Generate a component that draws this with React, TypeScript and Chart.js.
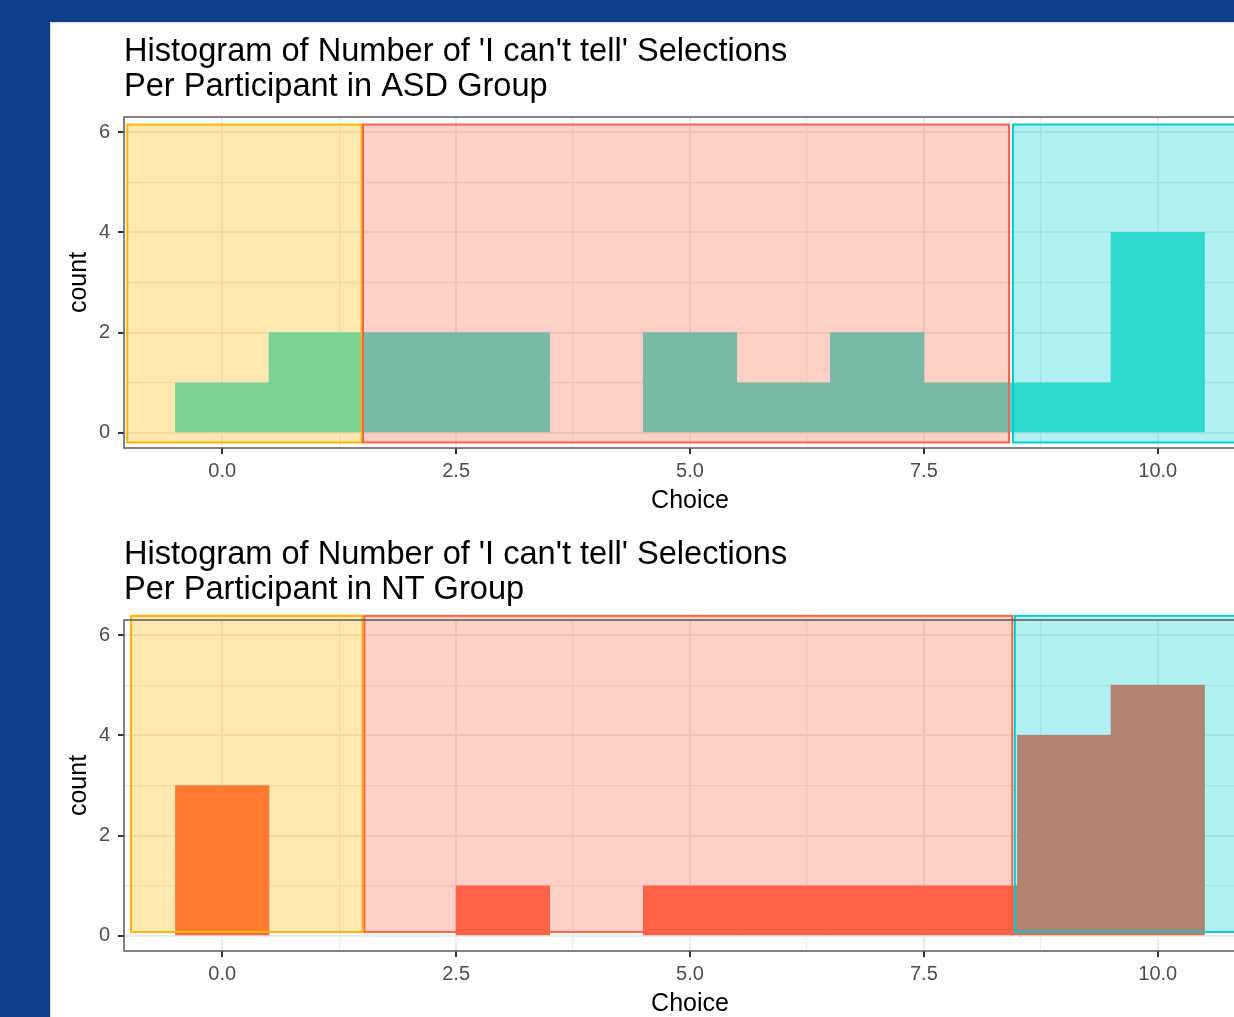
import React, { useEffect, useRef } from 'react';
import { Chart, registerables } from 'chart.js';

Chart.register(...registerables);

// Histogram bins (binwidth 1, centred on each whole choice value)
const BIN_CENTERS = [0, 1, 2, 3, 4, 5, 6, 7, 8, 9, 10];
const ASD_COUNTS = [1, 2, 2, 2, 0, 2, 1, 2, 1, 1, 4];
const NT_COUNTS = [3, 0, 0, 1, 0, 1, 1, 1, 1, 4, 5];

// Axis ticks
const X_MAJOR = [0, 2.5, 5, 7.5, 10];
const X_MINOR = [1.25, 3.75, 6.25, 8.75];
const Y_MAJOR = [0, 2, 4, 6];
const Y_MINOR = [1, 3, 5];

const ASD_TITLE = ["Histogram of Number of 'I can't tell' Selections", 'Per Participant in ASD Group'];
const NT_TITLE = ["Histogram of Number of 'I can't tell' Selections", 'Per Participant in NT Group'];

// Shaded choice zones: x extents per zone, shared y extent
const ASD_ZONES_X = [[-1.015, 1.49], [1.505, 8.41], [8.453, 11.6]];
const ASD_ZONES_Y = [-0.19, 6.15];
const NT_ZONES_X = [[-0.974, 1.5], [1.52, 8.445], [8.472, 11.6]];
const NT_ZONES_Y = [0.08, 6.383];
const ZONE_RGB = ['255,180,0', '255,99,71', '0,206,209'];

const FONT = '"Liberation Sans", Arial, Helvetica, sans-serif';

const isIn = (arr: number[], v: number) => arr.some((a) => Math.abs(a - v) < 1e-9);

function zonesPlugin(zx: number[][], zy: number[]) {
  return {
    id: 'zones',
    afterDatasetsDraw(chart: any) {
      const { ctx } = chart;
      const xs = chart.scales.x;
      const ys = chart.scales.y;
      const top = ys.getPixelForValue(zy[1]);
      const bottom = ys.getPixelForValue(zy[0]);
      ctx.save();
      zx.forEach(([a, b], i) => {
        const x0 = xs.getPixelForValue(a);
        const x1 = xs.getPixelForValue(b);
        ctx.fillStyle = `rgba(${ZONE_RGB[i]},0.3)`;
        ctx.fillRect(x0, top, x1 - x0, bottom - top);
        ctx.strokeStyle = `rgb(${ZONE_RGB[i]})`;
        ctx.lineWidth = 2;
        ctx.strokeRect(x0, top, x1 - x0, bottom - top);
      });
      ctx.restore();
    },
  };
}

const panelBorder = {
  id: 'panelBorder',
  afterDatasetsDraw(chart: any) {
    const { ctx, chartArea: a } = chart;
    ctx.save();
    ctx.strokeStyle = '#5a5a5a';
    ctx.lineWidth = 1.5;
    ctx.strokeRect(a.left, a.top, a.right - a.left, a.bottom - a.top);
    ctx.restore();
  },
};

function titlePlugin(lines: string[]) {
  return {
    id: 'leftTitle',
    afterDraw(chart: any) {
      const { ctx, chartArea } = chart;
      ctx.save();
      ctx.font = `32.6px ${FONT}`;
      ctx.fillStyle = '#000000';
      ctx.textAlign = 'left';
      ctx.textBaseline = 'alphabetic';
      lines.forEach((t, i) => ctx.fillText(t, chartArea.left, 39 + i * 34.5));
      ctx.restore();
    },
  };
}

function gridOpts(major: number[]) {
  return {
    offset: false,
    color: '#EBEBEB',
    lineWidth: (c: any) => (c.tick && isIn(major, c.tick.value) ? 2 : 1.2),
    drawTicks: true,
    tickLength: 6,
    tickWidth: 2,
    tickColor: (c: any) => (c.tick && isIn(major, c.tick.value) ? '#333333' : 'rgba(0,0,0,0)'),
  };
}

function makeConfig(counts: number[], barColor: string, title: string[], zx: number[][], zy: number[]): any {
  return {
    type: 'bar',
    data: {
      datasets: [
        {
          data: BIN_CENTERS.map((x, i) => ({ x, y: counts[i] })),
          backgroundColor: barColor,
          borderWidth: 0,
          barPercentage: 1,
          categoryPercentage: 1,
          inflateAmount: (c: any) => (c.raw && c.raw.y === 0 ? 0 : 0.33),
        },
      ],
    },
    options: {
      animation: false,
      responsive: false,
      layout: { padding: { top: 95, left: 0, right: 14, bottom: 0 } },
      plugins: { legend: { display: false }, tooltip: { enabled: false }, title: { display: false } },
      scales: {
        x: {
          type: 'linear',
          min: -1.05,
          max: 11.05,
          offset: false,
          afterBuildTicks: (s: any) => {
            s.ticks = [...X_MAJOR, ...X_MINOR].sort((a, b) => a - b).map((v) => ({ value: v }));
          },
          afterFit: (s: any) => {
            s.height = 77;
          },
          grid: gridOpts(X_MAJOR),
          border: { display: false },
          ticks: {
            autoSkip: false,
            maxRotation: 0,
            padding: 5,
            color: '#4D4D4D',
            font: { family: FONT, size: 20 },
            callback: (v: number) => (isIn(X_MAJOR, v) ? v.toFixed(1) : ''),
          },
          title: {
            display: true,
            text: 'Choice',
            color: '#000000',
            font: { family: FONT, size: 25 },
            padding: { top: 0, bottom: 9 },
          },
        },
        y: {
          type: 'linear',
          min: -0.3,
          max: 6.3,
          afterBuildTicks: (s: any) => {
            s.ticks = [...Y_MAJOR, ...Y_MINOR].sort((a, b) => a - b).map((v) => ({ value: v }));
          },
          afterFit: (s: any) => {
            s.width = 74;
          },
          grid: gridOpts(Y_MAJOR),
          border: { display: false },
          ticks: {
            autoSkip: false,
            padding: 8,
            color: '#4D4D4D',
            font: { family: FONT, size: 20 },
            callback: (v: number) => (isIn(Y_MAJOR, v) ? String(v) : ''),
          },
          title: {
            display: true,
            text: 'count',
            color: '#000000',
            font: { family: FONT, size: 25 },
            padding: { top: 14, bottom: 0 },
          },
        },
      },
    },
    plugins: [zonesPlugin(zx, zy), panelBorder, titlePlugin(title)],
  };
}

function HistogramCanvas(props: { top: number; build: () => any }) {
  const ref = useRef<HTMLCanvasElement>(null);
  useEffect(() => {
    const chart = new Chart(ref.current as HTMLCanvasElement, props.build());
    return () => chart.destroy();
  }, []);
  return (
    <canvas
      ref={ref}
      width={1220}
      height={503}
      style={{ position: 'absolute', left: 50, top: props.top, width: 1220, height: 503 }}
    />
  );
}

export default function App() {
  return (
    <div
      style={{
        position: 'fixed',
        left: 0,
        top: 0,
        width: 1234,
        height: 1017,
        overflow: 'hidden',
        background: '#0F4088',
      }}
    >
      <div
        style={{
          position: 'absolute',
          left: 50,
          top: 22,
          width: 1300,
          height: 1100,
          background: '#ffffff',
          borderLeft: '1px solid #D3D7DE',
          borderTop: '1px solid #D3D7DE',
          boxSizing: 'border-box',
        }}
      />
      <HistogramCanvas top={22} build={() => makeConfig(ASD_COUNTS, '#40E0D0', ASD_TITLE, ASD_ZONES_X, ASD_ZONES_Y)} />
      <HistogramCanvas top={525} build={() => makeConfig(NT_COUNTS, '#FF6347', NT_TITLE, NT_ZONES_X, NT_ZONES_Y)} />
    </div>
  );
}
